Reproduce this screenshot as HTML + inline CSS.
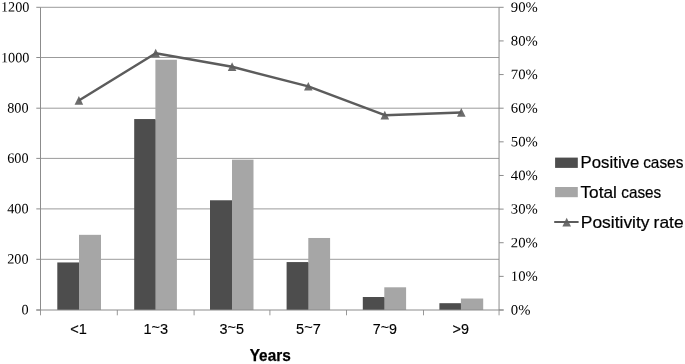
<!DOCTYPE html>
<html lang="en"><head><meta charset="utf-8"><title>Chart</title>
<style>html,body{margin:0;padding:0;background:#fff}svg{display:block}</style></head>
<body>
<svg width="685" height="364" viewBox="0 0 685 364">
<rect width="685" height="364" fill="#fff"/>
<line x1="40.50" x2="499.05" y1="259.30" y2="259.30" stroke="#9b9b9b" stroke-width="1"/>
<line x1="40.50" x2="499.05" y1="208.90" y2="208.90" stroke="#9b9b9b" stroke-width="1"/>
<line x1="40.50" x2="499.05" y1="158.40" y2="158.40" stroke="#9b9b9b" stroke-width="1"/>
<line x1="40.50" x2="499.05" y1="108.20" y2="108.20" stroke="#9b9b9b" stroke-width="1"/>
<line x1="40.50" x2="499.05" y1="57.50" y2="57.50" stroke="#9b9b9b" stroke-width="1"/>
<line x1="40.50" x2="499.05" y1="7.30" y2="7.30" stroke="#9b9b9b" stroke-width="1"/>
<rect x="79.00" y="234.83" width="22.00" height="75.17" fill="#a6a6a6"/>
<rect x="78.00" y="263.45" width="2" height="46.55" fill="#a6a6a6"/>
<rect x="57.30" y="262.45" width="21.70" height="47.55" fill="#4d4d4d"/>
<rect x="155.40" y="59.77" width="21.50" height="250.23" fill="#a6a6a6"/>
<rect x="154.40" y="120.05" width="2" height="189.95" fill="#a6a6a6"/>
<rect x="134.20" y="119.05" width="21.20" height="190.95" fill="#4d4d4d"/>
<rect x="232.00" y="159.66" width="21.50" height="150.34" fill="#a6a6a6"/>
<rect x="231.00" y="201.27" width="2" height="108.73" fill="#a6a6a6"/>
<rect x="210.00" y="200.27" width="22.00" height="109.73" fill="#4d4d4d"/>
<rect x="308.30" y="237.98" width="21.80" height="72.02" fill="#a6a6a6"/>
<rect x="307.30" y="263.07" width="2" height="46.93" fill="#a6a6a6"/>
<rect x="286.60" y="262.07" width="21.70" height="47.93" fill="#4d4d4d"/>
<rect x="384.30" y="287.30" width="21.80" height="22.70" fill="#a6a6a6"/>
<rect x="383.30" y="298.01" width="2" height="11.99" fill="#a6a6a6"/>
<rect x="362.80" y="297.01" width="21.50" height="12.99" fill="#4d4d4d"/>
<rect x="460.90" y="298.52" width="22.30" height="11.48" fill="#a6a6a6"/>
<rect x="459.90" y="304.19" width="2" height="5.81" fill="#a6a6a6"/>
<rect x="439.40" y="303.19" width="21.50" height="6.81" fill="#4d4d4d"/>
<line x1="40.50" x2="40.50" y1="7.30" y2="310.00" stroke="#8c8c8c" stroke-width="1"/>
<line x1="499.05" x2="499.05" y1="7.30" y2="310.00" stroke="#8c8c8c" stroke-width="1"/>
<line x1="36.30" x2="503.65" y1="310.00" y2="310.00" stroke="#8c8c8c" stroke-width="1"/>
<line x1="36.30" x2="40.50" y1="310.00" y2="310.00" stroke="#8c8c8c" stroke-width="1"/>
<line x1="36.30" x2="40.50" y1="259.30" y2="259.30" stroke="#8c8c8c" stroke-width="1"/>
<line x1="36.30" x2="40.50" y1="208.90" y2="208.90" stroke="#8c8c8c" stroke-width="1"/>
<line x1="36.30" x2="40.50" y1="158.40" y2="158.40" stroke="#8c8c8c" stroke-width="1"/>
<line x1="36.30" x2="40.50" y1="108.20" y2="108.20" stroke="#8c8c8c" stroke-width="1"/>
<line x1="36.30" x2="40.50" y1="57.50" y2="57.50" stroke="#8c8c8c" stroke-width="1"/>
<line x1="36.30" x2="40.50" y1="7.30" y2="7.30" stroke="#8c8c8c" stroke-width="1"/>
<line x1="499.05" x2="503.65" y1="310.00" y2="310.00" stroke="#8c8c8c" stroke-width="1"/>
<line x1="499.05" x2="503.65" y1="276.37" y2="276.37" stroke="#8c8c8c" stroke-width="1"/>
<line x1="499.05" x2="503.65" y1="242.73" y2="242.73" stroke="#8c8c8c" stroke-width="1"/>
<line x1="499.05" x2="503.65" y1="209.10" y2="209.10" stroke="#8c8c8c" stroke-width="1"/>
<line x1="499.05" x2="503.65" y1="175.47" y2="175.47" stroke="#8c8c8c" stroke-width="1"/>
<line x1="499.05" x2="503.65" y1="141.83" y2="141.83" stroke="#8c8c8c" stroke-width="1"/>
<line x1="499.05" x2="503.65" y1="108.20" y2="108.20" stroke="#8c8c8c" stroke-width="1"/>
<line x1="499.05" x2="503.65" y1="74.57" y2="74.57" stroke="#8c8c8c" stroke-width="1"/>
<line x1="499.05" x2="503.65" y1="40.93" y2="40.93" stroke="#8c8c8c" stroke-width="1"/>
<line x1="499.05" x2="503.65" y1="7.30" y2="7.30" stroke="#8c8c8c" stroke-width="1"/>
<line x1="40.50" x2="40.50" y1="310.00" y2="315.30" stroke="#8c8c8c" stroke-width="0.9"/>
<line x1="117.30" x2="117.30" y1="310.00" y2="315.30" stroke="#8c8c8c" stroke-width="0.9"/>
<line x1="194.10" x2="194.10" y1="310.00" y2="315.30" stroke="#8c8c8c" stroke-width="0.9"/>
<line x1="269.90" x2="269.90" y1="310.00" y2="315.30" stroke="#8c8c8c" stroke-width="0.9"/>
<line x1="346.50" x2="346.50" y1="310.00" y2="315.30" stroke="#8c8c8c" stroke-width="0.9"/>
<line x1="423.50" x2="423.50" y1="310.00" y2="315.30" stroke="#8c8c8c" stroke-width="0.9"/>
<line x1="499.05" x2="499.05" y1="310.00" y2="315.30" stroke="#8c8c8c" stroke-width="0.9"/>
<path d="M78.90 96.00 L83.20 104.70 L74.60 104.70 Z" fill="#6c6c6c"/>
<path d="M155.70 48.80 L160.00 57.50 L151.40 57.50 Z" fill="#6c6c6c"/>
<path d="M232.10 62.30 L236.40 71.00 L227.80 71.00 Z" fill="#6c6c6c"/>
<path d="M308.30 81.90 L312.60 90.60 L304.00 90.60 Z" fill="#6c6c6c"/>
<path d="M384.80 110.70 L389.10 119.40 L380.50 119.40 Z" fill="#6c6c6c"/>
<path d="M461.30 108.10 L465.60 116.80 L457.00 116.80 Z" fill="#6c6c6c"/>
<polyline fill="none" stroke="#5c5c5c" stroke-width="2.5" stroke-linejoin="round" points="78.9,100.5 155.7,53.3 232.1,66.8 308.3,86.4 384.8,115.2 461.3,112.6"/>
<text x="28.5" y="314.40" text-anchor="end" font-size="14.2" transform="rotate(0.3 28.5 314.40)" font-family="'Liberation Serif', serif" fill="#000">0</text>
<text x="28.5" y="263.70" text-anchor="end" font-size="14.2" transform="rotate(0.3 28.5 263.70)" font-family="'Liberation Serif', serif" fill="#000">200</text>
<text x="28.5" y="213.30" text-anchor="end" font-size="14.2" transform="rotate(0.3 28.5 213.30)" font-family="'Liberation Serif', serif" fill="#000">400</text>
<text x="28.5" y="162.80" text-anchor="end" font-size="14.2" transform="rotate(0.3 28.5 162.80)" font-family="'Liberation Serif', serif" fill="#000">600</text>
<text x="28.5" y="112.60" text-anchor="end" font-size="14.2" transform="rotate(0.3 28.5 112.60)" font-family="'Liberation Serif', serif" fill="#000">800</text>
<text x="29.4" y="62.30" text-anchor="end" font-size="14.2" transform="rotate(0.3 29.4 62.30)" font-family="'Liberation Serif', serif" fill="#000">1000</text>
<text x="29.4" y="11.70" text-anchor="end" font-size="14.2" transform="rotate(0.3 29.4 11.70)" font-family="'Liberation Serif', serif" fill="#000">1200</text>
<text x="510.8" y="314.50" font-size="14.2" textLength="19.59" transform="rotate(0.3 523 314.50)" lengthAdjust="spacingAndGlyphs" font-family="'Liberation Serif', serif" fill="#000">0%</text>
<text x="510.8" y="280.87" font-size="14.2" textLength="26.94" transform="rotate(0.3 523 280.87)" lengthAdjust="spacingAndGlyphs" font-family="'Liberation Serif', serif" fill="#000">10%</text>
<text x="510.8" y="247.23" font-size="14.2" textLength="26.94" transform="rotate(0.3 523 247.23)" lengthAdjust="spacingAndGlyphs" font-family="'Liberation Serif', serif" fill="#000">20%</text>
<text x="510.8" y="213.60" font-size="14.2" textLength="26.94" transform="rotate(0.3 523 213.60)" lengthAdjust="spacingAndGlyphs" font-family="'Liberation Serif', serif" fill="#000">30%</text>
<text x="510.8" y="179.97" font-size="14.2" textLength="26.94" transform="rotate(0.3 523 179.97)" lengthAdjust="spacingAndGlyphs" font-family="'Liberation Serif', serif" fill="#000">40%</text>
<text x="510.8" y="146.33" font-size="14.2" textLength="26.94" transform="rotate(0.3 523 146.33)" lengthAdjust="spacingAndGlyphs" font-family="'Liberation Serif', serif" fill="#000">50%</text>
<text x="510.8" y="112.70" font-size="14.2" textLength="26.94" transform="rotate(0.3 523 112.70)" lengthAdjust="spacingAndGlyphs" font-family="'Liberation Serif', serif" fill="#000">60%</text>
<text x="510.8" y="79.07" font-size="14.2" textLength="26.94" transform="rotate(0.3 523 79.07)" lengthAdjust="spacingAndGlyphs" font-family="'Liberation Serif', serif" fill="#000">70%</text>
<text x="510.8" y="45.43" font-size="14.2" textLength="26.94" transform="rotate(0.3 523 45.43)" lengthAdjust="spacingAndGlyphs" font-family="'Liberation Serif', serif" fill="#000">80%</text>
<text x="510.8" y="11.80" font-size="14.2" textLength="26.94" transform="rotate(0.3 523 11.80)" lengthAdjust="spacingAndGlyphs" font-family="'Liberation Serif', serif" fill="#000">90%</text>
<text x="70.28" y="334" font-size="14.8" stroke="#000" stroke-width="0.15" textLength="16.63" lengthAdjust="spacingAndGlyphs" font-family="'Liberation Sans', sans-serif" fill="#000">&lt;1</text>
<text x="143.39" y="334" font-size="14.8" stroke="#000" stroke-width="0.15" textLength="24.65" lengthAdjust="spacingAndGlyphs" font-family="'Liberation Sans', sans-serif" fill="#000">1<tspan dy="-2.4">~</tspan><tspan dy="2.4">3</tspan></text>
<text x="219.55" y="334" font-size="14.8" stroke="#000" stroke-width="0.15" textLength="24.45" lengthAdjust="spacingAndGlyphs" font-family="'Liberation Sans', sans-serif" fill="#000">3<tspan dy="-2.4">~</tspan><tspan dy="2.4">5</tspan></text>
<text x="296.12" y="334" font-size="14.8" stroke="#000" stroke-width="0.15" textLength="24.61" lengthAdjust="spacingAndGlyphs" font-family="'Liberation Sans', sans-serif" fill="#000">5<tspan dy="-2.4">~</tspan><tspan dy="2.4">7</tspan></text>
<text x="372.77" y="334" font-size="14.8" stroke="#000" stroke-width="0.15" textLength="24.21" lengthAdjust="spacingAndGlyphs" font-family="'Liberation Sans', sans-serif" fill="#000">7<tspan dy="-2.4">~</tspan><tspan dy="2.4">9</tspan></text>
<text x="452.59" y="334" font-size="14.8" stroke="#000" stroke-width="0.15" textLength="16.39" lengthAdjust="spacingAndGlyphs" font-family="'Liberation Sans', sans-serif" fill="#000">&gt;9</text>
<text x="249.74" y="361" font-size="16.1" font-weight="bold" stroke="#000" stroke-width="0.25" textLength="40.97" lengthAdjust="spacingAndGlyphs" font-family="'Liberation Sans', sans-serif" fill="#000">Years</text>
<rect x="555.1" y="157.6" width="22.7" height="10.3" fill="#4d4d4d"/>
<rect x="555.1" y="187.0" width="22.7" height="10.2" fill="#a6a6a6"/>
<path d="M566.70 217.70 L571.00 226.40 L562.40 226.40 Z" fill="#6c6c6c"/>
<line x1="554.2" x2="578.6" y1="222.0" y2="222.0" stroke="#5c5c5c" stroke-width="2"/>
<text y="168" font-size="16.4" stroke="#000" stroke-width="0.2" font-family="'Liberation Sans', sans-serif" fill="#000"><tspan x="580.62" textLength="58.72" lengthAdjust="spacingAndGlyphs">Positive</tspan> <tspan x="643.15" textLength="40.21" lengthAdjust="spacingAndGlyphs">cases</tspan></text>
<text y="198" font-size="16.4" stroke="#000" stroke-width="0.2" font-family="'Liberation Sans', sans-serif" fill="#000"><tspan x="580.43" textLength="36.47" lengthAdjust="spacingAndGlyphs">Total</tspan> <tspan x="621.35" textLength="39.90" lengthAdjust="spacingAndGlyphs">cases</tspan></text>
<text y="228" font-size="16.4" stroke="#000" stroke-width="0.2" font-family="'Liberation Sans', sans-serif" fill="#000"><tspan x="580.77" textLength="68.76" lengthAdjust="spacingAndGlyphs">Positivity</tspan> <tspan x="653.64" textLength="30.03" lengthAdjust="spacingAndGlyphs">rate</tspan></text>
</svg>
</body></html>
